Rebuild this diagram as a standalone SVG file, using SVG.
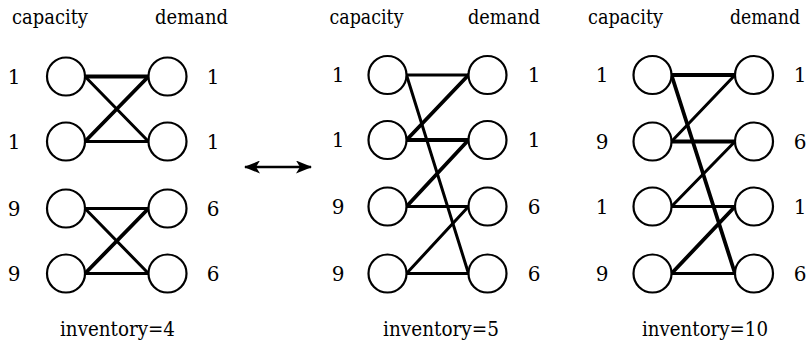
<svg xmlns="http://www.w3.org/2000/svg" width="809" height="356" viewBox="0 0 809 356">
<style>
text{font-family:'DejaVu Serif','Liberation Serif',serif;font-size:20px;fill:#000;text-anchor:middle}
circle{fill:#fff;stroke:#000;stroke-width:2.2}
.e{stroke:#000;stroke-width:3;stroke-linecap:round;fill:none}
.t{stroke-width:3.8}
</style>
<defs>
<marker id="ah" viewBox="0 0 16 13" refX="15" refY="6.5" markerWidth="16" markerHeight="13" markerUnits="userSpaceOnUse" orient="auto-start-reverse">
<path d="M0,0 L16,6.5 L0,13 L4,6.5 Z" fill="#000"/>
</marker>
</defs>
<rect width="809" height="356" fill="#fff"/>
<g id="headers">
<text x="50" y="24" textLength="76" lengthAdjust="spacingAndGlyphs">capacity</text>
<text x="191.5" y="24" textLength="73" lengthAdjust="spacingAndGlyphs">demand</text>
<text x="366.5" y="24" textLength="74" lengthAdjust="spacingAndGlyphs">capacity</text>
<text x="504" y="24" textLength="72" lengthAdjust="spacingAndGlyphs">demand</text>
<text x="625.5" y="24" textLength="75" lengthAdjust="spacingAndGlyphs">capacity</text>
<text x="765" y="24" textLength="70" lengthAdjust="spacingAndGlyphs">demand</text>
</g>
<g id="connectors">
<line class="e t" x1="85" y1="76.5" x2="148.5" y2="76.5"/>
<line class="e" x1="85" y1="76.5" x2="148.5" y2="141.5"/>
<line class="e t" x1="85" y1="141.5" x2="148.5" y2="76.5"/>
<line class="e" x1="85" y1="141.5" x2="148.5" y2="141.5"/>
<line class="e" x1="85" y1="208.5" x2="148.5" y2="208.5"/>
<line class="e" x1="85" y1="208.5" x2="148.5" y2="273.5"/>
<line class="e t" x1="85" y1="273.5" x2="148.5" y2="208.5"/>
<line class="e" x1="85" y1="273.5" x2="148.5" y2="273.5"/>
<line class="e" x1="406.5" y1="75" x2="468.5" y2="75"/>
<line class="e" x1="406.5" y1="75" x2="468.5" y2="273.5"/>
<line class="e t" x1="406.5" y1="140" x2="468.5" y2="75"/>
<line class="e t" x1="406.5" y1="140" x2="468.5" y2="140"/>
<line class="e t" x1="406.5" y1="206.5" x2="468.5" y2="140"/>
<line class="e" x1="406.5" y1="206.5" x2="468.5" y2="206.5"/>
<line class="e" x1="406.5" y1="273.5" x2="468.5" y2="206.5"/>
<line class="e" x1="406.5" y1="273.5" x2="468.5" y2="273.5"/>
<line class="e t" x1="671.5" y1="75" x2="735" y2="75"/>
<line class="e t" x1="671.5" y1="75" x2="735" y2="273.5"/>
<line class="e" x1="671.5" y1="141.5" x2="735" y2="75"/>
<line class="e t" x1="671.5" y1="141.5" x2="735" y2="141.5"/>
<line class="e" x1="671.5" y1="206.5" x2="735" y2="141.5"/>
<line class="e" x1="671.5" y1="206.5" x2="735" y2="206.5"/>
<line class="e t" x1="671.5" y1="273.5" x2="735" y2="206.5"/>
<line class="e" x1="671.5" y1="273.5" x2="735" y2="273.5"/>
</g>
<g id="p1-c1"><circle cx="66" cy="76.5" r="19"/><text x="14" y="83.5">1</text></g>
<g id="p1-c2"><circle cx="66" cy="141.5" r="19"/><text x="14" y="148.5">1</text></g>
<g id="p1-c3"><circle cx="66" cy="208.5" r="19"/><text x="14" y="215.5">9</text></g>
<g id="p1-c4"><circle cx="66" cy="273.5" r="19"/><text x="14" y="280.5">9</text></g>
<g id="p1-d1"><circle cx="167.5" cy="76.5" r="19"/><text x="213" y="83.5">1</text></g>
<g id="p1-d2"><circle cx="167.5" cy="141.5" r="19"/><text x="213" y="148.5">1</text></g>
<g id="p1-d3"><circle cx="167.5" cy="208.5" r="19"/><text x="213" y="215.5">6</text></g>
<g id="p1-d4"><circle cx="167.5" cy="273.5" r="19"/><text x="213" y="280.5">6</text></g>
<g id="p2-c1"><circle cx="387.5" cy="75" r="19"/><text x="338" y="82">1</text></g>
<g id="p2-c2"><circle cx="387.5" cy="140" r="19"/><text x="338" y="147">1</text></g>
<g id="p2-c3"><circle cx="387.5" cy="206.5" r="19"/><text x="338" y="213.5">9</text></g>
<g id="p2-c4"><circle cx="387.5" cy="273.5" r="19"/><text x="338" y="280.5">9</text></g>
<g id="p2-d1"><circle cx="487.5" cy="75" r="19"/><text x="534" y="82">1</text></g>
<g id="p2-d2"><circle cx="487.5" cy="140" r="19"/><text x="534" y="147">1</text></g>
<g id="p2-d3"><circle cx="487.5" cy="206.5" r="19"/><text x="534" y="213.5">6</text></g>
<g id="p2-d4"><circle cx="487.5" cy="273.5" r="19"/><text x="534" y="280.5">6</text></g>
<g id="p3-c1"><circle cx="652.5" cy="75" r="19"/><text x="602" y="82">1</text></g>
<g id="p3-c2"><circle cx="652.5" cy="141.5" r="19"/><text x="602" y="148.5">9</text></g>
<g id="p3-c3"><circle cx="652.5" cy="206.5" r="19"/><text x="602" y="213.5">1</text></g>
<g id="p3-c4"><circle cx="652.5" cy="273.5" r="19"/><text x="602" y="280.5">9</text></g>
<g id="p3-d1"><circle cx="754" cy="75" r="19"/><text x="800" y="82">1</text></g>
<g id="p3-d2"><circle cx="754" cy="141.5" r="19"/><text x="800" y="148.5">6</text></g>
<g id="p3-d3"><circle cx="754" cy="206.5" r="19"/><text x="800" y="213.5">1</text></g>
<g id="p3-d4"><circle cx="754" cy="273.5" r="19"/><text x="800" y="280.5">6</text></g>
<g id="arrow">
<line x1="245" y1="167" x2="311" y2="167" stroke="#000" stroke-width="2.5" marker-start="url(#ah)" marker-end="url(#ah)"/>
</g>
<g id="captions">
<text x="117.5" y="336" textLength="115" lengthAdjust="spacingAndGlyphs">inventory=4</text>
<text x="441" y="336" textLength="116" lengthAdjust="spacingAndGlyphs">inventory=5</text>
<text x="705" y="336" textLength="126" lengthAdjust="spacingAndGlyphs">inventory=10</text>
</g>
</svg>
